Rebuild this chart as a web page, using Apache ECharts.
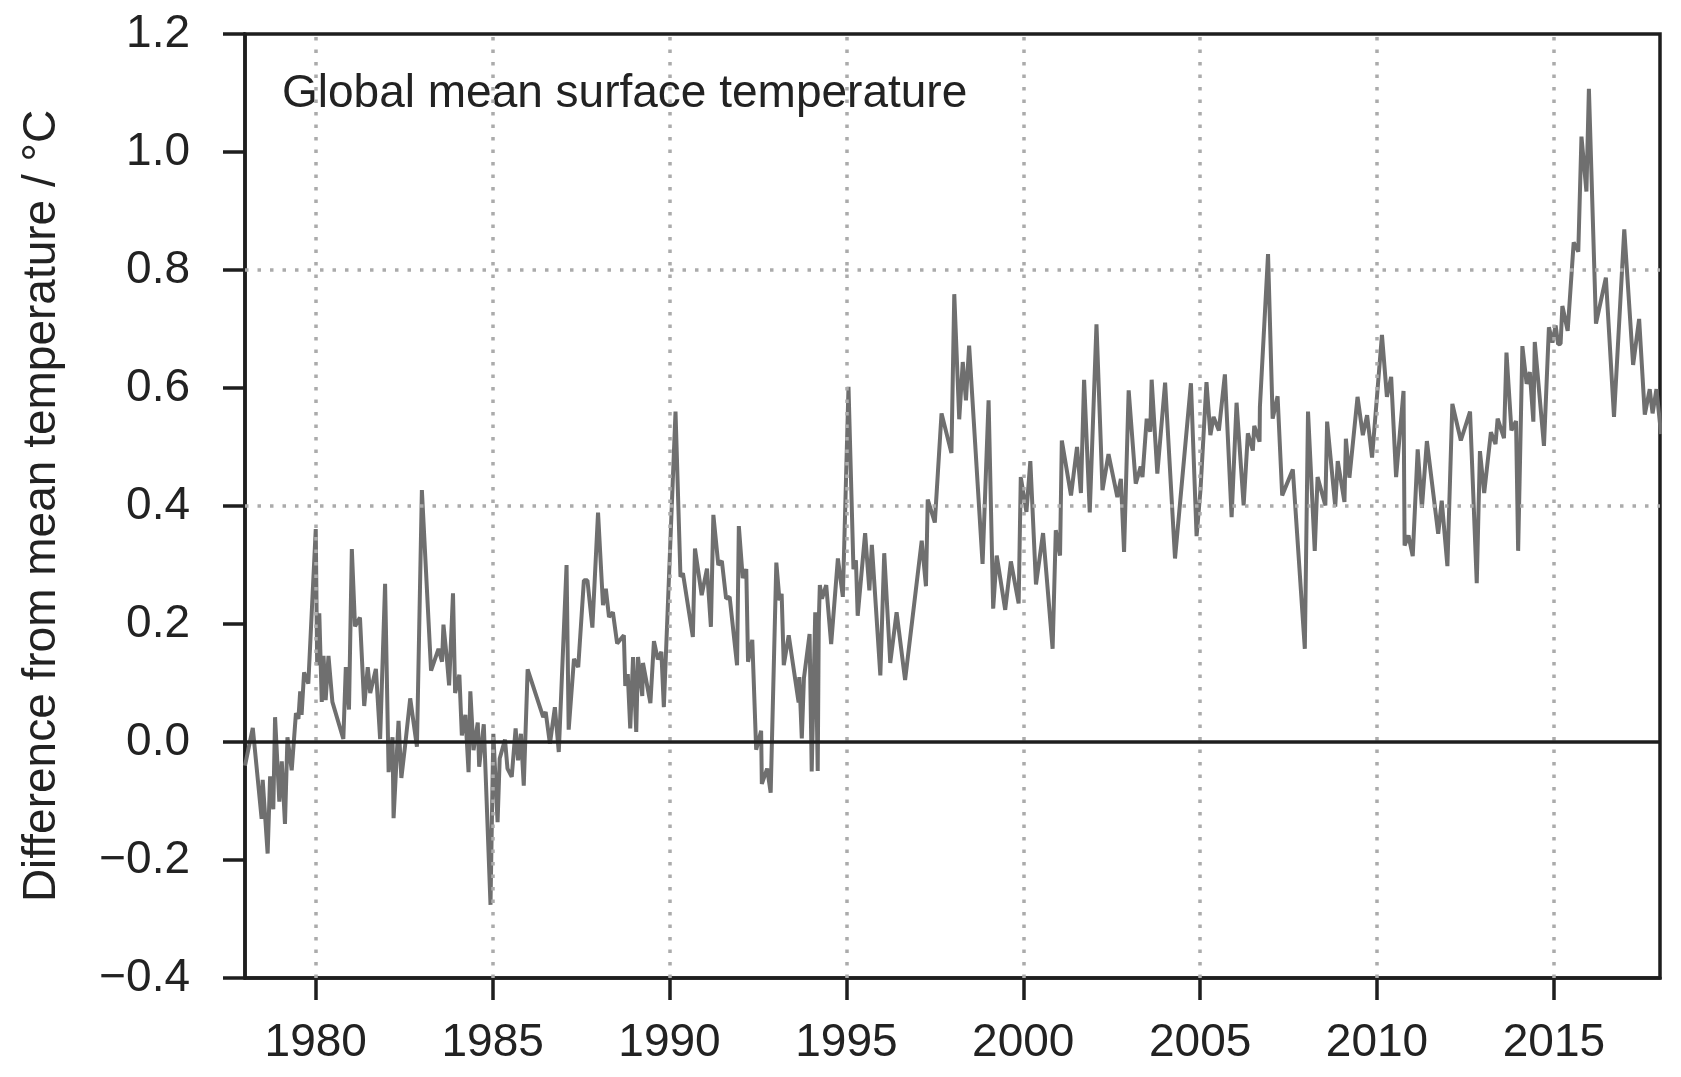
<!DOCTYPE html>
<html>
<head>
<meta charset="utf-8">
<script src="https://cdn.jsdelivr.net/npm/echarts@6/dist/echarts.min.js"></script>
<style>
  html, body { margin: 0; padding: 0; background: #fff; }
  #main { width: 1681px; height: 1077px; }
</style>
</head>
<body>
<div id="main"></div>
<script>
// decimal year of each reading
const years = [
  1978.0, 1978.22, 1978.47, 1978.5, 1978.64, 1978.71, 1978.8, 1978.85, 1978.97, 1979.04,
  1979.13, 1979.2, 1979.32, 1979.44, 1979.51, 1979.56, 1979.6, 1979.67, 1979.79, 1980.0,
  1980.04, 1980.1, 1980.17, 1980.22, 1980.28, 1980.36, 1980.47, 1980.78, 1980.85, 1980.94,
  1981.02, 1981.11, 1981.25, 1981.37, 1981.47, 1981.54, 1981.7, 1981.82, 1981.96, 1982.06,
  1982.17, 1982.2, 1982.34, 1982.42, 1982.53, 1982.67, 1982.86, 1983.0, 1983.26, 1983.47,
  1983.57, 1983.61, 1983.71, 1983.77, 1983.88, 1983.94, 1984.06, 1984.13, 1984.23, 1984.32,
  1984.37, 1984.46, 1984.58, 1984.62, 1984.75, 1984.94, 1985.02, 1985.14, 1985.2, 1985.35,
  1985.42, 1985.54, 1985.65, 1985.72, 1985.8, 1985.88, 1985.99, 1986.43, 1986.5, 1986.62,
  1986.76, 1986.87, 1987.09, 1987.15, 1987.3, 1987.42, 1987.58, 1987.68, 1987.82, 1987.98,
  1988.12, 1988.2, 1988.29, 1988.4, 1988.52, 1988.71, 1988.75, 1988.82, 1988.89, 1988.97,
  1989.06, 1989.11, 1989.23, 1989.25, 1989.46, 1989.56, 1989.67, 1989.77, 1989.84, 1990.17,
  1990.31, 1990.38, 1990.66, 1990.72, 1990.91, 1991.06, 1991.17, 1991.24, 1991.38, 1991.48,
  1991.6, 1991.7, 1991.91, 1991.96, 1992.07, 1992.17, 1992.22, 1992.34, 1992.45, 1992.59,
  1992.61, 1992.76, 1992.86, 1993.02, 1993.11, 1993.17, 1993.23, 1993.37, 1993.65, 1993.67,
  1993.74, 1993.8, 1993.96, 1994.02, 1994.12, 1994.19, 1994.22, 1994.25, 1994.31, 1994.43,
  1994.57, 1994.76, 1994.9, 1995.06, 1995.2, 1995.27, 1995.32, 1995.53, 1995.65, 1995.72,
  1995.96, 1996.07, 1996.24, 1996.42, 1996.66, 1997.13, 1997.25, 1997.3, 1997.5, 1997.69,
  1997.97, 1998.05, 1998.19, 1998.29, 1998.38, 1998.47, 1998.85, 1999.02, 1999.15, 1999.25,
  1999.49, 1999.65, 1999.87, 1999.93, 2000.09, 2000.2, 2000.36, 2000.56, 2000.83, 2000.92,
  2001.04, 2001.09, 2001.35, 2001.52, 2001.63, 2001.72, 2001.88, 2002.07, 2002.24, 2002.41,
  2002.66, 2002.76, 2002.85, 2002.98, 2003.18, 2003.32, 2003.37, 2003.49, 2003.59, 2003.63,
  2003.79, 2004.01, 2004.29, 2004.74, 2004.9, 2005.01, 2005.18, 2005.29, 2005.38, 2005.53,
  2005.7, 2005.89, 2006.03, 2006.23, 2006.35, 2006.49, 2006.53, 2006.68, 2006.69, 2006.92,
  2007.05, 2007.19, 2007.32, 2007.62, 2007.96, 2008.05, 2008.24, 2008.32, 2008.54, 2008.59,
  2008.82, 2008.89, 2009.08, 2009.12, 2009.22, 2009.45, 2009.6, 2009.72, 2009.86, 2010.14,
  2010.28, 2010.4, 2010.54, 2010.75, 2010.78, 2010.89, 2011.01, 2011.15, 2011.27, 2011.41,
  2011.73, 2011.83, 2011.99, 2012.13, 2012.37, 2012.63, 2012.82, 2012.91, 2013.03, 2013.22,
  2013.35, 2013.41, 2013.59, 2013.66, 2013.8, 2013.93, 2013.99, 2014.11, 2014.23, 2014.32,
  2014.42, 2014.46, 2014.72, 2014.86, 2014.96, 2015.05, 2015.12, 2015.19, 2015.24, 2015.39,
  2015.56, 2015.69, 2015.78, 2015.92, 2015.99, 2016.19, 2016.47, 2016.7, 2016.99, 2017.24,
  2017.41, 2017.57, 2017.71, 2017.79, 2017.9, 2018.03
];

// difference from mean temperature (°C)
const anomalies = [
  -0.04, 0.024, -0.13, -0.064, -0.189, -0.058, -0.114, 0.042, -0.101, -0.033,
  -0.139, 0.008, -0.048, 0.049, 0.039, 0.086, 0.046, 0.118, 0.099, 0.361,
  0.13, 0.218, 0.068, 0.146, 0.071, 0.146, 0.068, 0.005, 0.127, 0.055,
  0.327, 0.196, 0.211, 0.061, 0.127, 0.083, 0.124, 0.005, 0.268, -0.051,
  0.008, -0.129, 0.036, -0.061, -0.004, 0.074, -0.008, 0.427, 0.121, 0.158,
  0.136, 0.199, 0.139, 0.096, 0.252, 0.083, 0.114, 0.011, 0.046, -0.051,
  0.086, -0.014, 0.033, -0.042, 0.03, -0.276, 0.014, -0.136, -0.028, 0.004,
  -0.045, -0.059, 0.023, -0.031, 0.014, -0.074, 0.123, 0.042, 0.051, -0.003,
  0.059, -0.017, 0.30, 0.021, 0.141, 0.127, 0.274, 0.274, 0.194, 0.389,
  0.232, 0.26, 0.212, 0.22, 0.167, 0.181, 0.095, 0.115, 0.023, 0.144,
  0.017, 0.144, 0.078, 0.134, 0.066, 0.171, 0.14, 0.153, 0.059, 0.56,
  0.28, 0.286, 0.178, 0.328, 0.249, 0.294, 0.195, 0.385, 0.30, 0.307,
  0.243, 0.246, 0.13, 0.366, 0.278, 0.293, 0.136, 0.173, -0.013, 0.019,
  -0.071, -0.045, -0.086, 0.304, 0.24, 0.251, 0.13, 0.181, 0.067, 0.11,
  0.006, 0.108, 0.183, -0.05, 0.22, -0.049, 0.204, 0.266, 0.243, 0.266,
  0.166, 0.311, 0.246, 0.602, 0.293, 0.308, 0.214, 0.354, 0.257, 0.334,
  0.113, 0.32, 0.134, 0.22, 0.105, 0.341, 0.264, 0.411, 0.372, 0.557,
  0.49, 0.759, 0.547, 0.644, 0.579, 0.672, 0.302, 0.579, 0.226, 0.316,
  0.224, 0.306, 0.235, 0.449, 0.39, 0.476, 0.267, 0.354, 0.158, 0.359,
  0.316, 0.511, 0.418, 0.5, 0.422, 0.614, 0.389, 0.708, 0.427, 0.488,
  0.415, 0.446, 0.322, 0.596, 0.438, 0.467, 0.449, 0.548, 0.526, 0.614,
  0.455, 0.609, 0.311, 0.608, 0.349, 0.427, 0.61, 0.52, 0.551, 0.528,
  0.623, 0.381, 0.575, 0.401, 0.523, 0.494, 0.536, 0.509, 0.568, 0.827,
  0.548, 0.586, 0.418, 0.462, 0.158, 0.56, 0.324, 0.449, 0.401, 0.543,
  0.399, 0.476, 0.407, 0.514, 0.448, 0.585, 0.52, 0.554, 0.482, 0.69,
  0.585, 0.619, 0.449, 0.595, 0.333, 0.35, 0.315, 0.496, 0.397, 0.51,
  0.353, 0.409, 0.298, 0.573, 0.511, 0.56, 0.269, 0.493, 0.422, 0.525,
  0.505, 0.548, 0.515, 0.66, 0.528, 0.544, 0.324, 0.671, 0.607, 0.627,
  0.543, 0.678, 0.502, 0.703, 0.677, 0.706, 0.674, 0.675, 0.739, 0.697,
  0.847, 0.831, 1.026, 0.933, 1.107, 0.709, 0.787, 0.551, 0.869, 0.639,
  0.717, 0.555, 0.598, 0.557, 0.598, 0.522
];

const yearTicks = [1980, 1985, 1990, 1995, 2000, 2005, 2010, 2015];
const dottedLevels = [0.4, 0.8];

const FONT = "'Liberation Sans', Arial, sans-serif";
const INK = '#222222';

const chart = echarts.init(document.getElementById('main'));

const seriesData = years.map((y, i) => [y, anomalies[i]]);

const dotted = {
  color: '#ababab',
  width: 3.5,
  type: [3.5, 9]
};

chart.setOption({
  animation: false,
  backgroundColor: '#fff',
  grid: {
    left: 245,
    right: 21,
    top: 34,
    bottom: 99,
    show: true,
    borderColor: '#1e1e1e',
    borderWidth: 3.5
  },
  graphic: [{
    type: 'text',
    left: 282,
    top: 71,
    style: {
      text: 'Global mean surface temperature',
      font: '46px ' + FONT,
      fill: INK
    }
  }],
  xAxis: {
    type: 'value',
    min: 1978,
    max: 2018,
    axisLine: { onZero: false, lineStyle: { color: '#1e1e1e', width: 3.5 } },
    axisTick: {
      customValues: yearTicks,
      length: 22,
      lineStyle: { color: '#1e1e1e', width: 3.5 }
    },
    axisLabel: {
      customValues: yearTicks,
      margin: 42,
      fontSize: 46,
      fontFamily: FONT,
      color: INK,
      formatter: v => String(v)
    },
    splitLine: { show: false }
  },
  yAxis: {
    type: 'value',
    min: -0.4,
    max: 1.2,
    interval: 0.2,
    name: 'Difference from mean temperature / °C',
    nameLocation: 'middle',
    nameGap: 180,
    nameTextStyle: { fontSize: 46, fontFamily: FONT, color: INK },
    axisLine: { lineStyle: { color: '#1e1e1e', width: 3.5 } },
    axisTick: { length: 22, lineStyle: { color: '#1e1e1e', width: 3.5 } },
    axisLabel: {
      margin: 55,
      fontSize: 46,
      fontFamily: FONT,
      color: INK,
      formatter: v => {
        const s = Math.abs(v).toFixed(1);
        return v < -1e-9 ? '\u2212' + s : s;
      }
    },
    splitLine: { show: false }
  },
  series: [
    {
      // reference lines under the data
      type: 'line',
      data: [],
      z: 1,
      silent: true,
      markLine: {
        silent: true,
        symbol: 'none',
        label: { show: false },
        animation: false,
        data: [
          ...yearTicks.map(y => ({ xAxis: y, lineStyle: dotted })),
          ...dottedLevels.map(v => ({ yAxis: v, lineStyle: dotted })),
          { yAxis: 0, lineStyle: { color: '#1e1e1e', width: 3.5, type: 'solid' } }
        ]
      }
    },
    {
      type: 'line',
      data: seriesData,
      z: 3,
      showSymbol: false,
      symbol: 'none',
      lineStyle: { color: '#6f6f6f', width: 4 },
      silent: true
    }
  ]
});
</script>
</body>
</html>
